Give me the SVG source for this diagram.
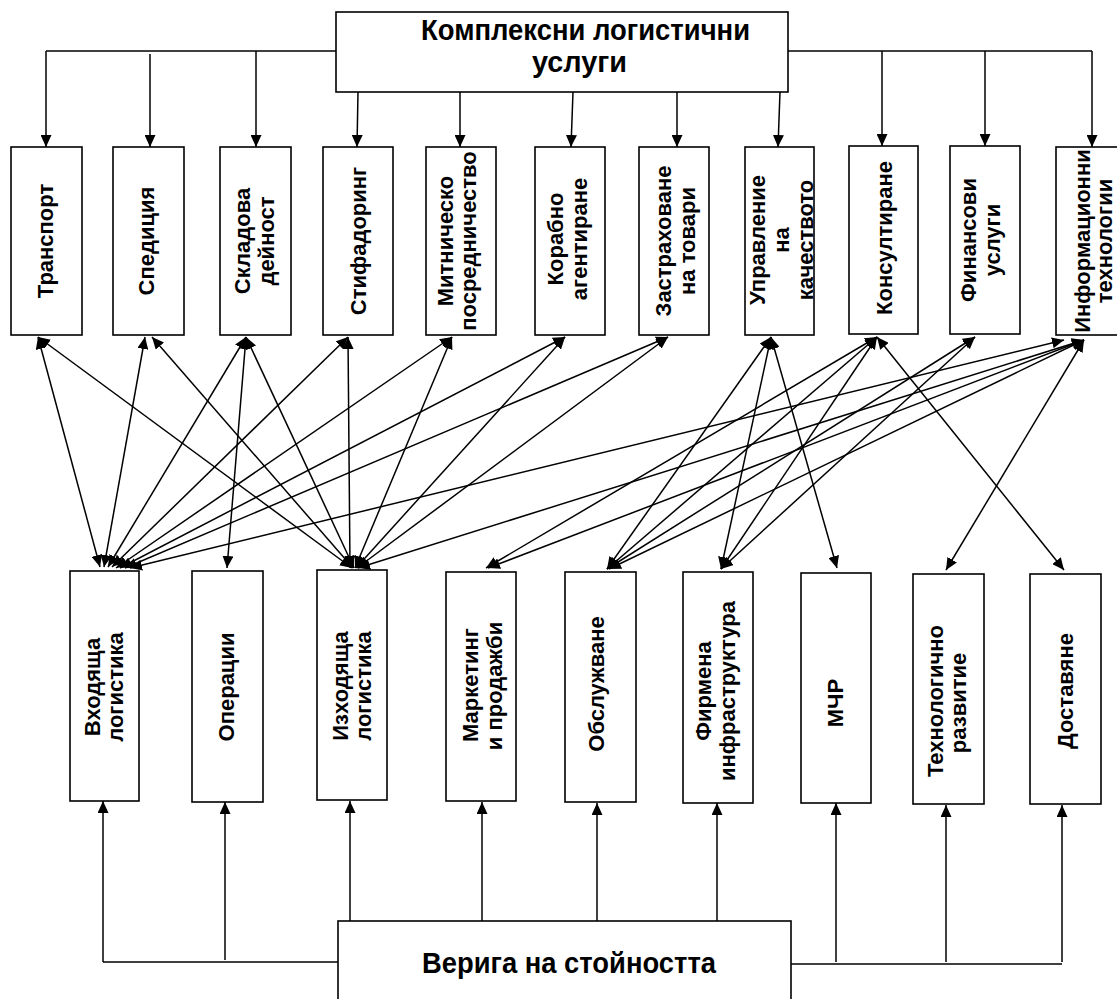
<svg xmlns="http://www.w3.org/2000/svg" width="1117" height="999" viewBox="0 0 1117 999">
<defs>
<marker id="ah" markerUnits="userSpaceOnUse" markerWidth="12" markerHeight="11" refX="12" refY="5.5" orient="auto-start-reverse">
<path d="M0,0 L12,5.5 L0,11 z" fill="#000"/>
</marker>
</defs>
<style>
.box{fill:#fff;stroke:#000;stroke-width:1.6}
.t{font-family:"Liberation Sans",Arial,sans-serif;font-weight:bold;font-size:22px;fill:#000}
.tt{font-family:"Liberation Sans",Arial,sans-serif;font-weight:bold;font-size:30px;fill:#000}
.ln{fill:none;stroke:#000;stroke-width:1.4}
.a1{fill:none;stroke:#000;stroke-width:1.5;marker-end:url(#ah)}
.a2{fill:none;stroke:#000;stroke-width:1.5;marker-start:url(#ah);marker-end:url(#ah)}
</style>
<rect width="1117" height="999" fill="#fff"/>

<g id="connectors">
<path class="ln" d="M46,51 H336"/>
<path class="ln" d="M788,51 H1092"/>
<path class="a1" d="M46,51 V147"/>
<path class="a1" d="M150,54 V147"/>
<path class="a1" d="M256,51 V147"/>
<path class="a1" d="M358,92 L357,147"/>
<path class="a1" d="M460,92 V147"/>
<path class="a1" d="M573,92 L571,147"/>
<path class="a1" d="M677,92 V147"/>
<path class="a1" d="M780,92 L778,147"/>
<path class="a1" d="M882,51 V146"/>
<path class="a1" d="M985,51 V146"/>
<path class="a1" d="M1092,51 V147"/>
<path class="a2" d="M38,337 L100,567"/>
<path class="a2" d="M38,337 L352,568"/>
<path class="a2" d="M145,337 L104,567"/>
<path class="a2" d="M152,337 L353,568"/>
<path class="a2" d="M246,337 L108,567"/>
<path class="a2" d="M246,337 L227,568"/>
<path class="a2" d="M246,337 L354,568"/>
<path class="a2" d="M348,337 L112,567"/>
<path class="a2" d="M348,337 L350,568"/>
<path class="a2" d="M452,337 L116,568"/>
<path class="a2" d="M452,337 L355,568"/>
<path class="a2" d="M565,337 L120,568"/>
<path class="a2" d="M565,337 L356,568"/>
<path class="a2" d="M668,337 L125,568"/>
<path class="a2" d="M668,337 L357,568"/>
<path class="a2" d="M771,337 L607,569"/>
<path class="a2" d="M771,337 L721,569"/>
<path class="a2" d="M771,337 L837,568"/>
<path class="a2" d="M877,337 L486,568"/>
<path class="a2" d="M877,337 L607,569"/>
<path class="a2" d="M877,337 L721,569"/>
<path class="a2" d="M877,337 L1064,570"/>
<path class="a2" d="M975,337 L607,569"/>
<path class="a2" d="M975,337 L721,569"/>
<path class="a2" d="M1064,340 L130,568"/>
<path class="a2" d="M1084,340 L358,568"/>
<path class="a2" d="M1084,340 L488,568"/>
<path class="a2" d="M1084,340 L609,569"/>
<path class="a2" d="M1084,340 L946,570"/>
<path class="ln" d="M103,962 H338"/>
<path class="ln" d="M791,964 H1062"/>
<path class="a1" d="M103,962 V801"/>
<path class="a1" d="M225,960 V802"/>
<path class="a1" d="M350,921 V801"/>
<path class="a1" d="M482,921 V802"/>
<path class="a1" d="M597,921 V803"/>
<path class="a1" d="M717,921 V803"/>
<path class="a1" d="M836,962 V803"/>
<path class="a1" d="M946,962 V805"/>
<path class="a1" d="M1062,962 V805"/>
</g>

<g id="n-top">
<rect class="box" x="336" y="12" width="452" height="80"/>
<text class="tt" x="421" y="40" textLength="329" lengthAdjust="spacingAndGlyphs">Комплексни логистични</text>
<text class="tt" x="532" y="72" textLength="95" lengthAdjust="spacingAndGlyphs">услуги</text>
</g>

<g id="n-transport"><rect class="box" x="11" y="147" width="71" height="188"/>
<text class="t" text-anchor="middle" transform="translate(53,241) rotate(-90)">Транспорт</text></g>
<g id="n-spedicia"><rect class="box" x="113" y="147" width="71" height="188"/>
<text class="t" text-anchor="middle" transform="translate(154,241) rotate(-90)">Спедиция</text></g>
<g id="n-skladova"><rect class="box" x="220" y="147" width="71" height="188"/>
<text class="t" text-anchor="middle" transform="translate(250,241) rotate(-90)">Складова</text>
<text class="t" text-anchor="middle" transform="translate(274,241) rotate(-90)">дейност</text></g>
<g id="n-stifadoring"><rect class="box" x="323" y="147" width="70" height="188"/>
<text class="t" text-anchor="middle" transform="translate(366,241) rotate(-90)">Стифадоринг</text></g>
<g id="n-mitnichesko"><rect class="box" x="426" y="147" width="70" height="188"/>
<text class="t" text-anchor="middle" transform="translate(453,241) rotate(-90)">Митническо</text>
<text class="t" text-anchor="middle" transform="translate(476,241) rotate(-90)">посредничество</text></g>
<g id="n-korabno"><rect class="box" x="535" y="147" width="70" height="188"/>
<text class="t" text-anchor="middle" transform="translate(563,239) rotate(-90)">Корабно</text>
<text class="t" text-anchor="middle" transform="translate(587,239) rotate(-90)">агентиране</text></g>
<g id="n-zastrahovane"><rect class="box" x="639" y="147" width="70" height="188"/>
<text class="t" text-anchor="middle" transform="translate(671,241) rotate(-90)">Застраховане</text>
<text class="t" text-anchor="middle" transform="translate(695,241) rotate(-90)">на товари</text></g>
<g id="n-upravlenie"><rect class="box" x="745" y="147" width="69" height="188"/>
<text class="t" text-anchor="middle" transform="translate(765,240) rotate(-90)">Управление</text>
<text class="t" text-anchor="middle" transform="translate(789,240) rotate(-90)">на</text>
<text class="t" text-anchor="middle" transform="translate(813,240) rotate(-90)">качеството</text></g>
<g id="n-konsultirane"><rect class="box" x="849" y="146" width="69" height="188"/>
<text class="t" text-anchor="middle" transform="translate(892,238) rotate(-90)">Консултиране</text></g>
<g id="n-finansovi"><rect class="box" x="950" y="146" width="70" height="188"/>
<text class="t" text-anchor="middle" transform="translate(976,240) rotate(-90)">Финансови</text>
<text class="t" text-anchor="middle" transform="translate(1000,240) rotate(-90)">услуги</text></g>
<g id="n-informacionni"><rect class="box" x="1056" y="147" width="70" height="188"/>
<text class="t" text-anchor="middle" transform="translate(1090,241) rotate(-90)">Информационни</text>
<text class="t" text-anchor="middle" transform="translate(1112,241) rotate(-90)">технологии</text></g>

<g id="n-vhodyashta"><rect class="box" x="70" y="571" width="69" height="230"/>
<text class="t" text-anchor="middle" transform="translate(100,687) rotate(-90)">Входяща</text>
<text class="t" text-anchor="middle" transform="translate(123,687) rotate(-90)">логистика</text></g>
<g id="n-operacii"><rect class="box" x="192" y="571" width="71" height="231"/>
<text class="t" text-anchor="middle" transform="translate(234,687) rotate(-90)">Операции</text></g>
<g id="n-izhodyashta"><rect class="box" x="317" y="570" width="70" height="230"/>
<text class="t" text-anchor="middle" transform="translate(348,686) rotate(-90)">Изходяща</text>
<text class="t" text-anchor="middle" transform="translate(371,686) rotate(-90)">логистика</text></g>
<g id="n-marketing"><rect class="box" x="446" y="572" width="70" height="229"/>
<text class="t" text-anchor="middle" transform="translate(478,685) rotate(-90)">Маркетинг</text>
<text class="t" text-anchor="middle" transform="translate(502,686) rotate(-90)">и продажби</text></g>
<g id="n-obsluzhvane"><rect class="box" x="565" y="572" width="71" height="230"/>
<text class="t" text-anchor="middle" transform="translate(604,684) rotate(-90)">Обслужване</text></g>
<g id="n-firmena"><rect class="box" x="683" y="572" width="70" height="231"/>
<text class="t" text-anchor="middle" transform="translate(711,691) rotate(-90)">Фирмена</text>
<text class="t" text-anchor="middle" transform="translate(735,691) rotate(-90)">инфраструктура</text></g>
<g id="n-mchr"><rect class="box" x="801" y="573" width="70" height="230"/>
<text class="t" text-anchor="middle" transform="translate(843,703) rotate(-90)">МЧР</text></g>
<g id="n-tehnologichno"><rect class="box" x="913" y="574" width="71" height="230"/>
<text class="t" text-anchor="middle" transform="translate(943,701) rotate(-90)">Технологично</text>
<text class="t" text-anchor="middle" transform="translate(966,703) rotate(-90)">развитие</text></g>
<g id="n-dostavyane"><rect class="box" x="1030" y="574" width="71" height="230"/>
<text class="t" text-anchor="middle" transform="translate(1073,691) rotate(-90)">Доставяне</text></g>

<g id="n-veriga">
<rect class="box" x="338" y="921" width="453" height="90"/>
<text class="tt" x="422" y="973" textLength="294" lengthAdjust="spacingAndGlyphs">Верига на стойността</text>
</g>
</svg>
